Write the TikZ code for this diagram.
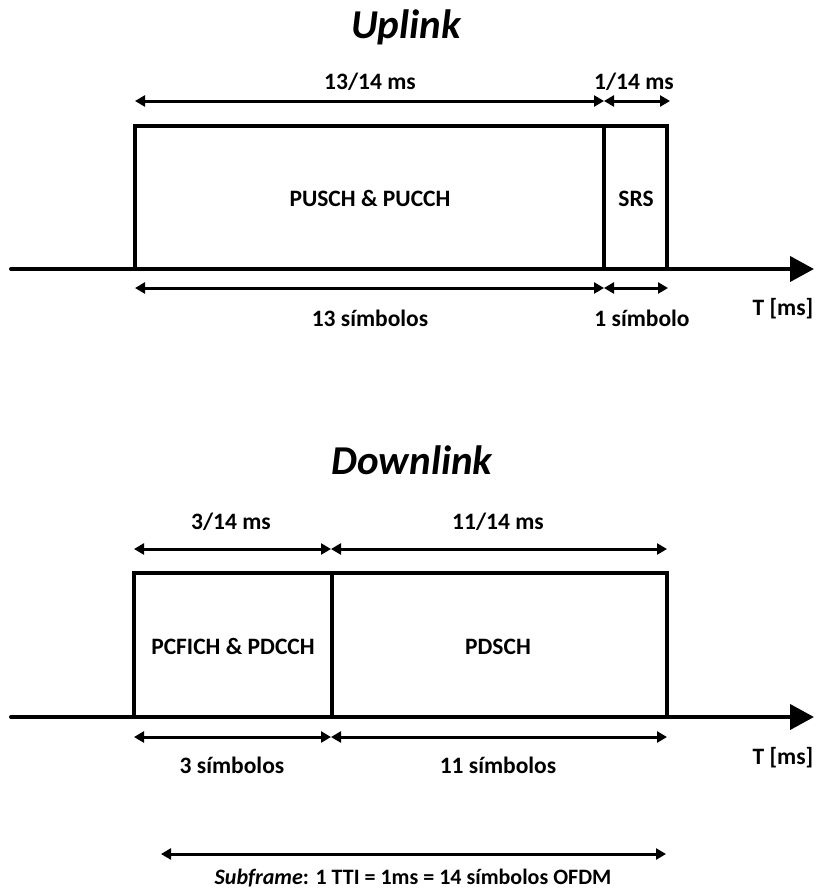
\documentclass[tikz,border=0pt]{standalone}
\usepackage{fontspec}
\setmainfont{Carlito}
\usetikzlibrary{arrows.meta}
\begin{document}
\begin{tikzpicture}[x=1pt,y=-1pt,
  lbl/.style={font=\fontsize{23.5}{28}\selectfont\bfseries, inner sep=0pt, anchor=base},
  ttl/.style={font=\fontsize{41}{46}\selectfont\bfseries\itshape, inner sep=0pt, anchor=base},
  dim/.style={line width=3pt, {Triangle[length=10pt,width=11pt]}-{Triangle[length=10pt,width=11pt]}},
  frame/.style={line width=4pt, line join=miter},
  axis/.style={line width=4pt, line cap=round, -{Triangle[length=24pt,width=25pt]}}]
\useasboundingbox (0,0) rectangle (820,889);

% ---------- Uplink ----------
\node[ttl] (tU) at (406,38) {Uplink};
\coordinate (ua0) at (11,269);
\coordinate (ua1) at (814,269);
\coordinate (uL) at (135,269);
\coordinate (uM) at (604,269);
\coordinate (uR) at (667,269);
\coordinate (uLt) at (135,126);
\coordinate (uMt) at (604,126);
\coordinate (uRt) at (667,126);
\draw[frame] (uL) -- (uLt) -- (uRt) -- (uR);
\draw[frame] (uM) -- (uMt);
\draw[axis] (ua0) -- (ua1);

\coordinate (udA) at (135,101);
\coordinate (udB) at (604,101);
\coordinate (udC) at (670,101);
\draw[dim] (udA) -- (udB);
\draw[dim] (udB) -- (udC);
\node[lbl] (l1) at (370,89) {13/14 ms};
\node[lbl] (l2) at (634,89) {1/14 ms};

\coordinate (ubA) at (135,288);
\coordinate (ubB) at (604,288);
\coordinate (ubC) at (668,288);
\draw[dim] (ubA) -- (ubB);
\draw[dim] (ubB) -- (ubC);
\node[lbl] (l3) at (370,326) {13 símbolos};
\node[lbl] (l4) at (642,326) {1 símbolo};
\node[lbl] (tu) at (783,315) {T [ms]};

\node[lbl] (pu) at (370,206) {PUSCH \& PUCCH};
\node[lbl] (srs) at (636,206) {SRS};

% ---------- Downlink ----------
\node[ttl] (tD) at (412,474) {Downlink};
\coordinate (da0) at (11,717);
\coordinate (da1) at (814,717);
\coordinate (dL) at (134,717);
\coordinate (dM) at (332,717);
\coordinate (dR) at (667,717);
\coordinate (dLt) at (134,573);
\coordinate (dMt) at (332,573);
\coordinate (dRt) at (667,573);
\draw[frame] (dL) -- (dLt) -- (dRt) -- (dR);
\draw[frame] (dM) -- (dMt);
\draw[axis] (da0) -- (da1);

\coordinate (ddA) at (134,549);
\coordinate (ddB) at (331,549);
\coordinate (ddC) at (667,549);
\draw[dim] (ddA) -- (ddB);
\draw[dim] (ddB) -- (ddC);
\node[lbl] (m1) at (231,529) {3/14 ms};
\node[lbl] (m2) at (498,529) {11/14 ms};

\coordinate (dbA) at (134,737);
\coordinate (dbB) at (331,737);
\coordinate (dbC) at (667,737);
\draw[dim] (dbA) -- (dbB);
\draw[dim] (dbB) -- (dbC);
\node[lbl] (m3) at (232,773) {3 símbolos};
\node[lbl] (m4) at (498,773) {11 símbolos};
\node[lbl] (td) at (783,764) {T [ms]};

\node[lbl] (pc) at (233,654) {PCFICH \& PDCCH};
\node[lbl] (pd) at (498,654) {PDSCH};

% ---------- Subframe ----------
\coordinate (sA) at (161,854);
\coordinate (sB) at (666,854);
\draw[dim] (sA) -- (sB);
\node[lbl, font=\fontsize{22}{26}\selectfont\bfseries] (sf) at (413,884) {\textit{Subframe}: 1 TTI = 1ms = 14 símbolos OFDM};
\end{tikzpicture}
\end{document}
